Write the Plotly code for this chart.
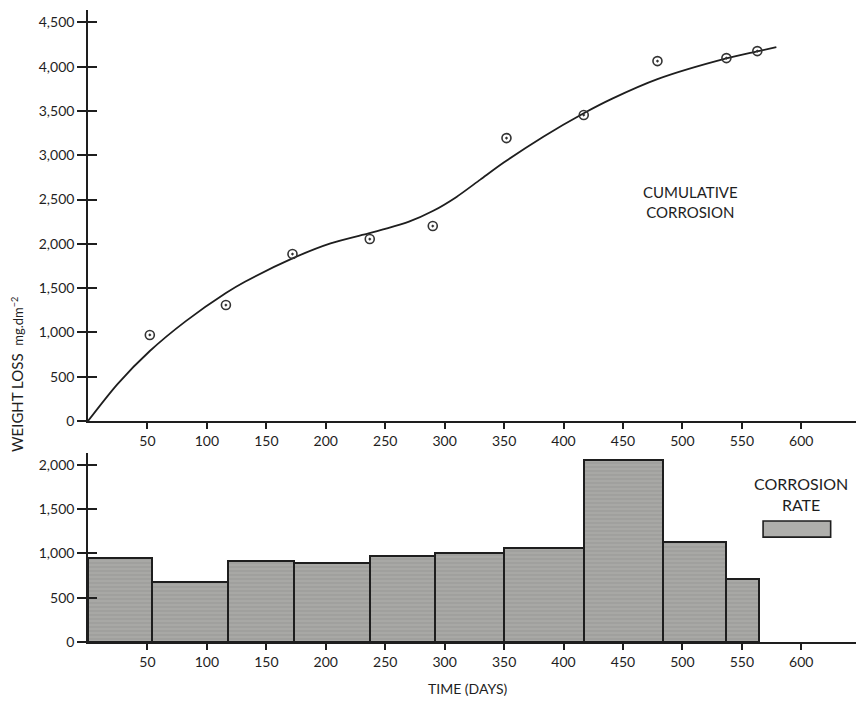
import plotly.graph_objects as go

# ---------------- data ----------------
point_days = [52, 116, 172, 237, 290, 352, 417, 479, 537, 563]
weight_loss = [971, 1309, 1885, 2054, 2201, 3194, 3454, 4063, 4097, 4176]

curve_days = [0, 25, 52, 82, 116, 132, 172, 204, 236, 250, 270, 290, 310, 330, 350, 383, 417, 441, 479, 537, 564, 579]
curve_vals = [0, 420, 790, 1125, 1445, 1572, 1836, 2005, 2118, 2168, 2250, 2370, 2530, 2725, 2920, 3210, 3475, 3640, 3860, 4094, 4176, 4222]

bar_edges = [0, 54, 118, 173.5, 237, 292, 350, 417, 484, 537, 564]
corrosion_rate = [947, 677, 910, 887, 966, 1004, 1064, 2060, 1124, 714]

x_ticks = [50, 100, 150, 200, 250, 300, 350, 400, 450, 500, 550, 600]
top_y_ticks = [0, 500, 1000, 1500, 2000, 2500, 3000, 3500, 4000, 4500]
bot_y_ticks = [0, 500, 1000, 1500, 2000]

bar_mid = [(a + b) / 2 for a, b in zip(bar_edges[:-1], bar_edges[1:])]
bar_w = [b - a for a, b in zip(bar_edges[:-1], bar_edges[1:])]

FONT = "Lato"
INK = "#1e1e1e"

fig = go.Figure()

fig.add_trace(go.Scatter(
    x=curve_days, y=curve_vals, mode="lines",
    line=dict(color=INK, width=1.8, shape="spline", smoothing=0.8),
    xaxis="x", yaxis="y", showlegend=False, hoverinfo="skip"))

fig.add_trace(go.Scatter(
    x=point_days, y=weight_loss, mode="markers",
    marker=dict(symbol="circle-open-dot", size=9, color="#333333", line=dict(width=1.6)),
    xaxis="x", yaxis="y", showlegend=False))

fig.add_trace(go.Bar(
    x=bar_mid, y=corrosion_rate, width=bar_w,
    marker=dict(color="#a3a3a0", line=dict(color=INK, width=2),
                pattern=dict(shape="-", fgcolor="#878785", bgcolor="#a8a8a5", size=4, solidity=0.25)),
    xaxis="x2", yaxis="y2", showlegend=False))

# invisible traces for the overlay tick axes
fig.add_trace(go.Scatter(x=[None], y=[None], xaxis="x", yaxis="y3", showlegend=False))
fig.add_trace(go.Scatter(x=[None], y=[None], xaxis="x2", yaxis="y4", showlegend=False))

X_RANGE = [0, 646]
TOP_DOM = [0.3497, 1.0]
BOT_DOM = [0.0, 0.299]

axis_common = dict(showgrid=False, zeroline=False, showline=True, linecolor=INK, linewidth=1.6,
                   tickcolor=INK, tickwidth=1.6,
                   tickfont=dict(family=FONT, size=14, color=INK))

fig.update_layout(
    width=856, height=701,
    margin=dict(l=88, r=0, t=10, b=59),
    paper_bgcolor="white", plot_bgcolor="white",
    bargap=0,
    xaxis=dict(domain=[0, 1], range=X_RANGE, anchor="y", tickvals=x_ticks,
               ticks="outside", ticklen=6, **axis_common),
    yaxis=dict(domain=TOP_DOM, range=[0, 4640], anchor="x", tickvals=top_y_ticks,
               tickformat=",", ticks="outside", ticklen=9, **axis_common),
    yaxis3=dict(domain=TOP_DOM, range=[0, 4640], overlaying="y", anchor="x", tickvals=top_y_ticks,
                ticks="inside", ticklen=9, showticklabels=False, showgrid=False, zeroline=False,
                showline=False, tickcolor=INK, tickwidth=1.6),
    xaxis2=dict(domain=[0, 1], range=X_RANGE, anchor="y2", tickvals=x_ticks,
                ticks="outside", ticklen=6, **axis_common),
    yaxis2=dict(domain=BOT_DOM, range=[0, 2135], anchor="x2", tickvals=bot_y_ticks,
                tickformat=",", ticks="outside", ticklen=9, **axis_common),
    yaxis4=dict(domain=BOT_DOM, range=[0, 2135], overlaying="y2", anchor="x2", tickvals=bot_y_ticks,
                ticks="inside", ticklen=9, showticklabels=False, showgrid=False, zeroline=False,
                showline=False, tickcolor=INK, tickwidth=1.6),
)

# legend swatch for corrosion rate
fig.add_shape(type="rect", xref="paper", yref="paper",
              x0=0.879, x1=0.967, y0=0.166, y1=0.1915,
              fillcolor="#afafac", line=dict(color=INK, width=1.6))

fig.add_annotation(text="CORROSION<br>RATE", xref="paper", yref="paper",
                   x=0.928, y=0.2, xanchor="center", yanchor="bottom", showarrow=False,
                   font=dict(family=FONT, size=16, color=INK), align="center")

fig.add_annotation(text="CUMULATIVE<br>CORROSION", xref="paper", yref="paper",
                   x=0.784, y=0.696, xanchor="center", yanchor="middle", showarrow=False,
                   font=dict(family=FONT, size=15, color=INK), align="center")

fig.add_annotation(text="WEIGHT LOSS  <span style='font-size:13px'>mg.dm<sup>−2</sup></span>",
                   xref="paper", yref="paper", x=-0.0924, y=0.4225, textangle=-90,
                   xanchor="center", yanchor="middle", showarrow=False,
                   font=dict(family=FONT, size=15, color=INK))

fig.add_annotation(text="TIME (DAYS)", xref="paper", yref="paper",
                   x=0.4935, y=-0.0728, xanchor="center", yanchor="middle", showarrow=False,
                   font=dict(family=FONT, size=14, color=INK))

fig.write_html("out.html")
